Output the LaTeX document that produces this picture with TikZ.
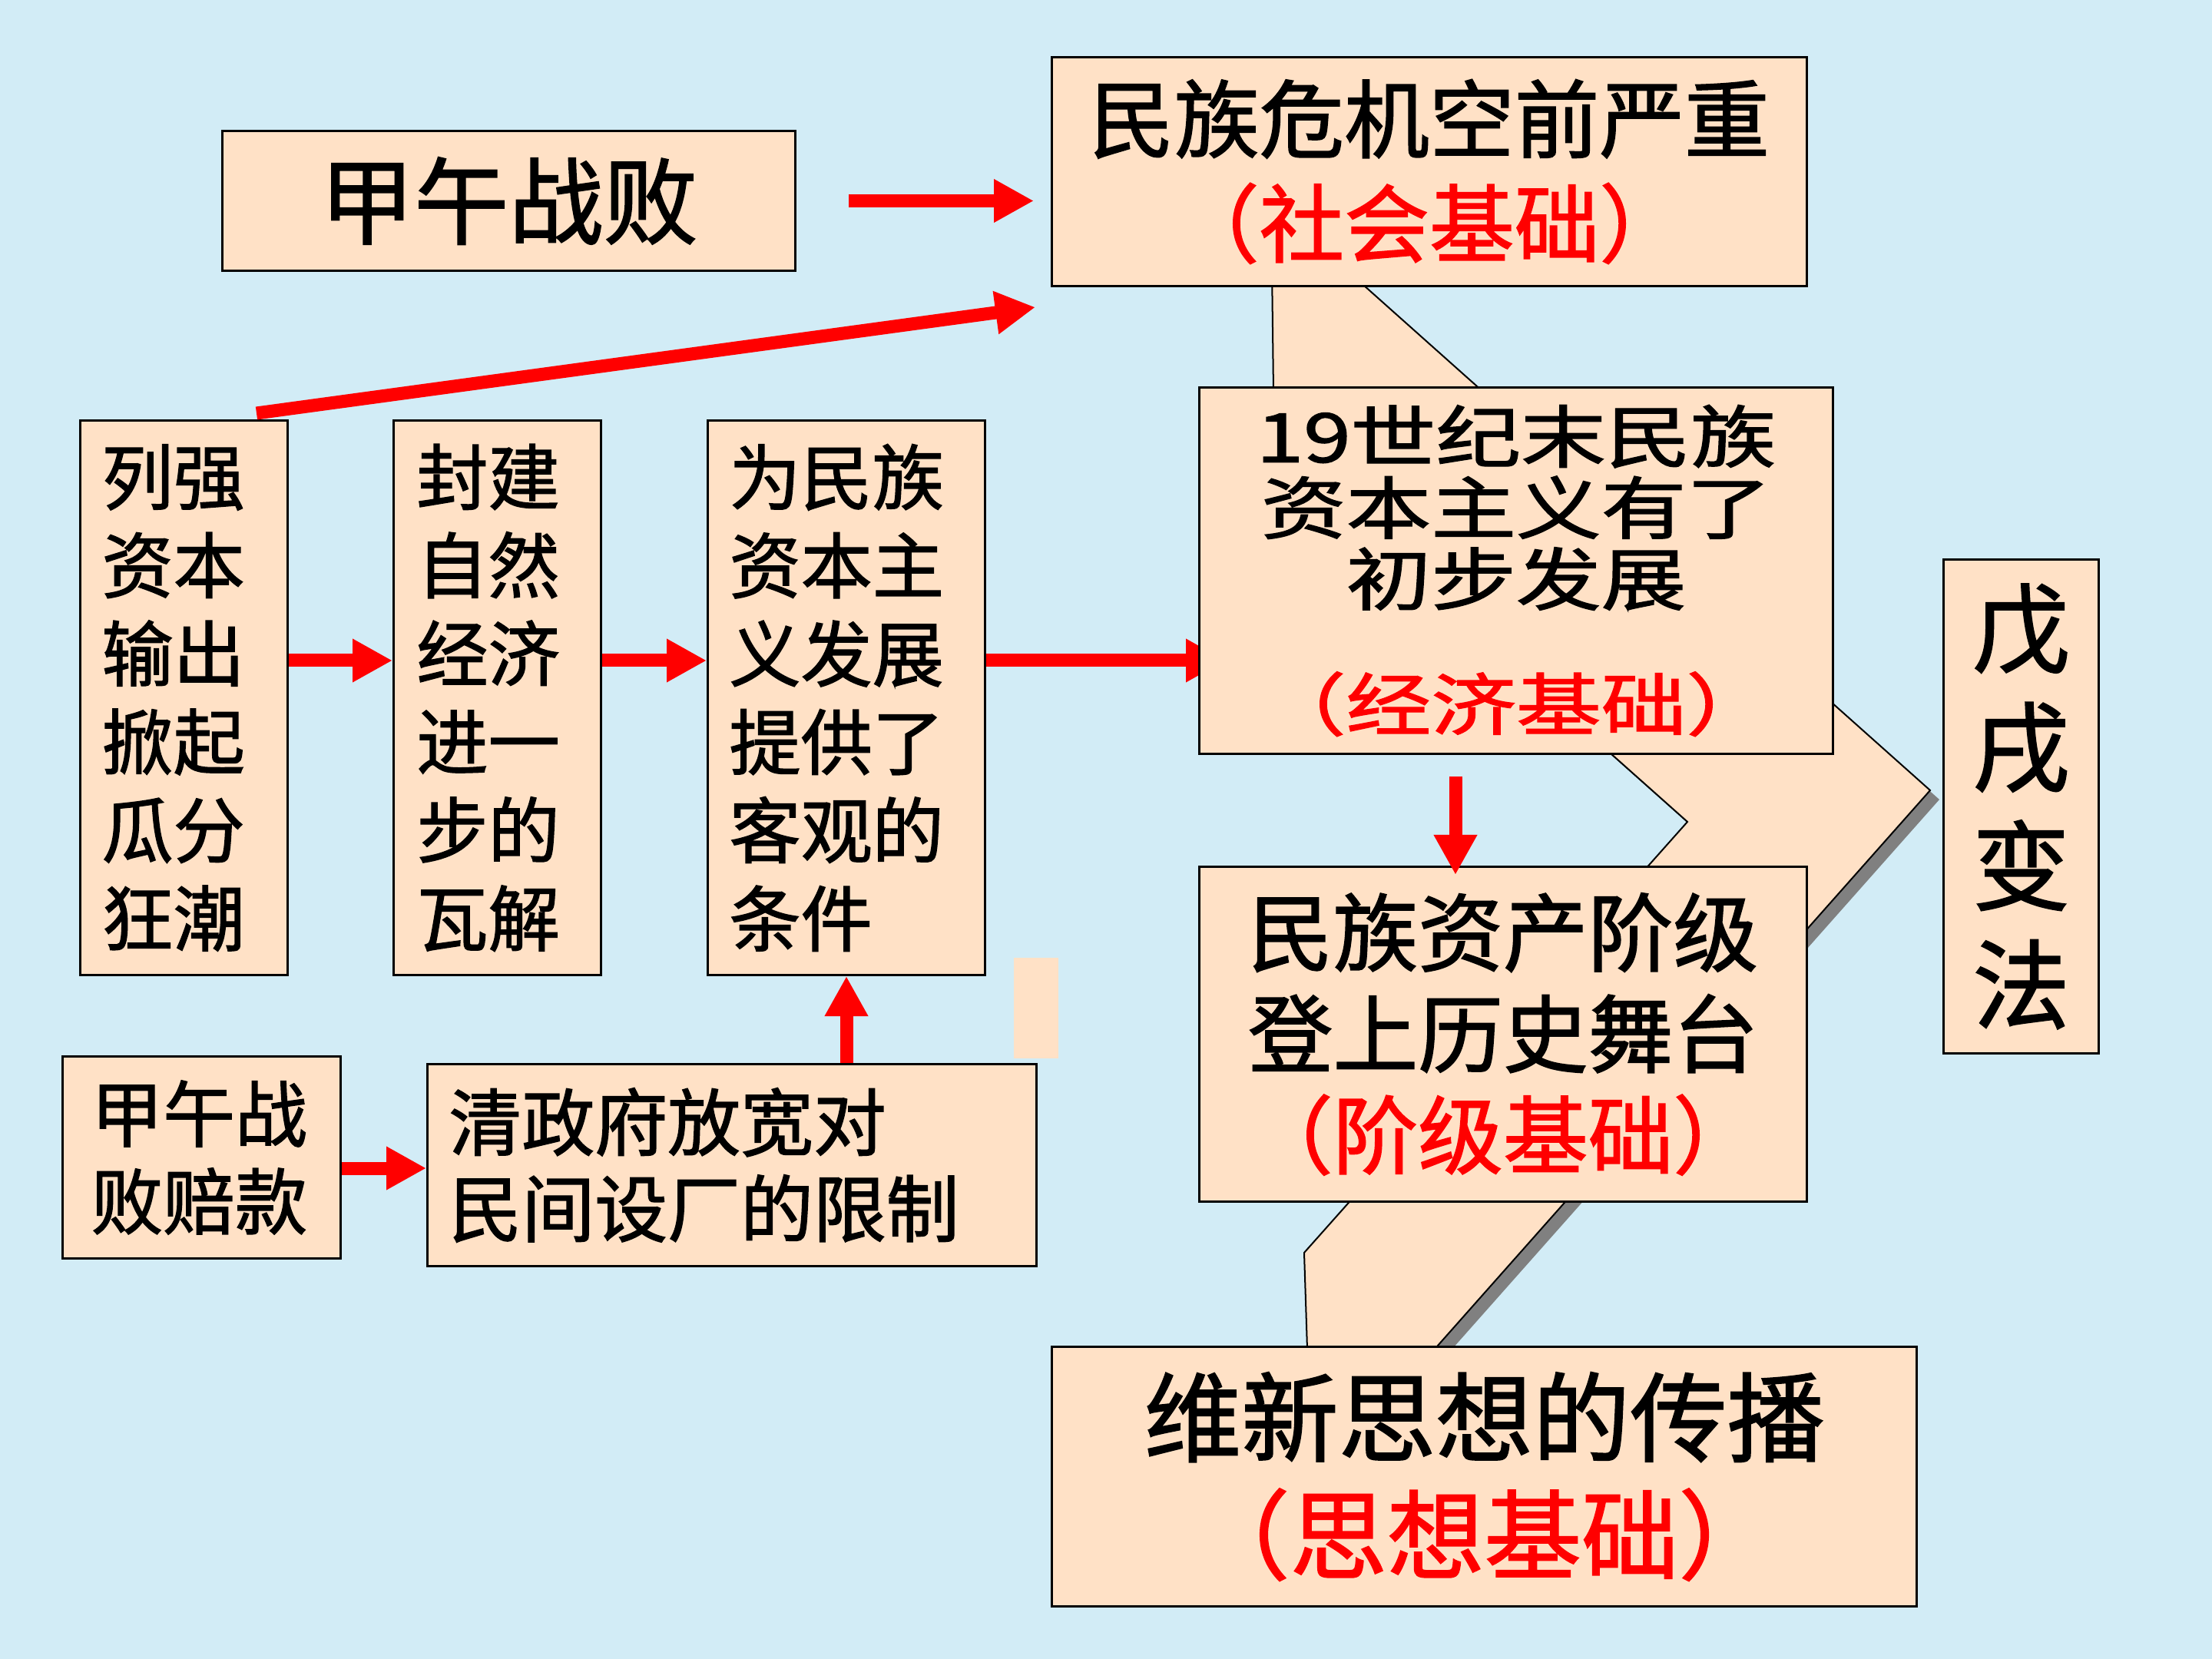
\documentclass[tikz,border=0pt]{standalone}
\usepackage{fontspec}
\setmainfont{Noto Sans CJK SC}[FakeBold=1.5]
\usepackage{graphicx}
\usetikzlibrary{calc}
\usetikzlibrary{arrows.meta}
\definecolor{bgblue}{RGB}{210,236,246}
\definecolor{peach}{RGB}{255,225,198}
\definecolor{shadowgray}{RGB}{128,128,128}
\pgfdeclarelayer{back}
\pgfsetlayers{back,main}

\begin{document}
\begin{tikzpicture}[x=1cm, y=-1cm]
 \tikzstyle{box}=[rectangle, draw, line width=0.03cm, fill=peach, anchor=north west, inner sep=0pt]
 \tikzstyle{colbox}=[box, align=left, font=\fontsize{26.5pt}{32.7pt}\selectfont]
 \tikzstyle{line}=[draw=red, line width=0.17cm, -{Triangle[length=0.52cm, width=0.53cm]}]

 \useasboundingbox (0,0) rectangle (28.8,21.6);

 \begin{scope}
  \draw (2.88, 1.69) node[box, minimum width=7.46cm, minimum height=1.82cm,
    font=\fontsize{35pt}{40pt}\selectfont] (jiawu) {甲午战败};
  \draw (13.68, 0.73) node[box, minimum width=9.83cm, minimum height=2.98cm, align=center,
    font=\fontsize{31.5pt}{38.7pt}\selectfont] (shehui) {民族危机空前严重\\\textcolor{red}{（社会基础）}};
 \end{scope}

 \begin{scope}
  \draw (1.03, 5.46) node[colbox, minimum width=2.70cm, minimum height=7.22cm, text width=2.14cm] (lq)
    {列强\\资本\\输出\\掀起\\瓜分\\狂潮};
  \draw (5.11, 5.46) node[colbox, minimum width=2.70cm, minimum height=7.22cm, text width=2.10cm] (fj)
    {封建\\自然\\经济\\进一\\步的\\瓦解};
  \draw (9.20, 5.46) node[colbox, minimum width=3.61cm, minimum height=7.22cm, text width=3.05cm] (wei)
    {为民族\\资本主\\义发展\\提供了\\客观的\\条件};
  \draw (0.80, 13.74) node[box, minimum width=3.62cm, minimum height=2.63cm, text width=2.88cm, align=left,
    font=\fontsize{26.7pt}{32.4pt}\selectfont] (pk) {甲午战\\败赔款};
  \draw (5.55, 13.84) node[box, minimum width=7.93cm, minimum height=2.63cm, text width=7.37cm, align=left,
    font=\fontsize{27pt}{32pt}\selectfont] (qing) {清政府放宽对\\民间设厂的限制};
 \end{scope}

 \begin{scope}
  \draw (15.60, 5.03) node[box, minimum width=8.25cm, minimum height=4.77cm] (jingji)
    {\scalebox{1}[0.8]{\parbox{7.8cm}{\centering\fontsize{31.5pt}{33pt}\selectfont
      19世纪末民族\\资本主义有了\\初步发展\\[25pt]\textcolor{red}{（经济基础）}}}};
  \draw (15.60, 11.27) node[box, minimum width=7.91cm, minimum height=4.36cm, align=center,
    font=\fontsize{31.5pt}{37.5pt}\selectfont] (jieji) {民族资产阶级\\登上历史舞台\\\textcolor{red}{（阶级基础）}};
  \draw (25.29, 7.27) node[box, minimum width=2.02cm, minimum height=6.43cm, align=center,
    font=\fontsize{36pt}{44pt}\selectfont] (wuxu) {戊\\戌\\变\\法};
  \draw (13.68, 17.52) node[box, minimum width=11.26cm, minimum height=3.38cm, align=center,
    font=\fontsize{36pt}{43.5pt}\selectfont] (weixin) {维新思想的传播\\\textcolor{red}{（思想基础）}};
 \end{scope}

 \coordinate (row) at (0, 8.60);
 \coordinate (row2) at (0, 15.21);
 \coordinate (col) at (18.95, 0);

 \path [line, shorten <=0.68cm, shorten >=0.22cm] (jiawu.east) -- (jiawu.east -| shehui.west);
 \path [line] ($(lq.north east)+(-0.42,-0.08)$) -- ($(shehui.south west)+(-0.2,0.26)$);
 \path [line] (lq.east |- row) -- (fj.west |- row);
 \path [line] (fj.east |- row) -- (wei.west |- row);
 \path [line] (pk.east |- row2) -- (qing.west |- row2);
 \path [line] (wei.south |- qing.north) -- (wei.south);
 \path [line, shorten <=0.28cm, shorten >=-0.12cm] (jingji.south -| col) -- (jieji.north -| col);

 \begin{pgfonlayer}{back}
  \fill[bgblue] (0,0) rectangle (28.8,21.6);
  \fill[shadowgray] (16.67,2.76) -- (25.25,10.41) -- (17.97,18.62) -- (17.17,18.62)
    -- (17.10,16.43) -- (22.09,10.82) -- (16.71,6.03) -- cycle;
  \draw[fill=peach, line width=0.02cm] (16.55,2.64) -- (25.13,10.29) -- (17.85,18.5) -- (17.05,18.5)
    -- (16.98,16.31) -- (21.97,10.70) -- (16.59,5.91) -- cycle;
  \fill[peach] (13.20,12.47) rectangle (13.78,13.78);
  \path [line, shorten >=-0.36cm] (wei.east |- row) -- (jingji.west |- row);
 \end{pgfonlayer}
\end{tikzpicture}
\end{document}
